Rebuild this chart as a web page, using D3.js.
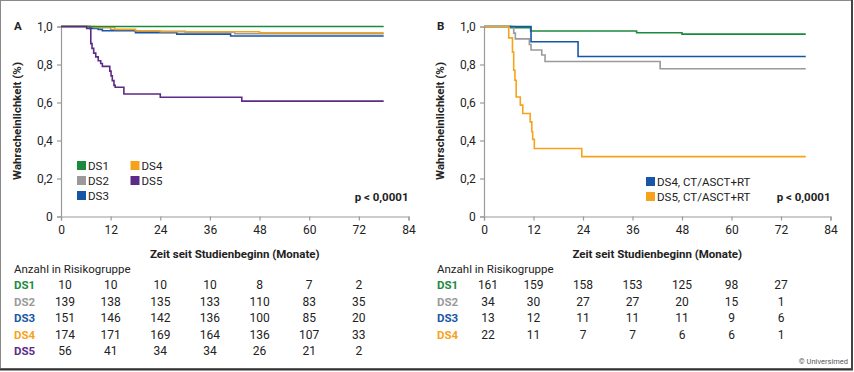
<!DOCTYPE html>
<html>
<head>
<meta charset="utf-8">
<script src="https://cdn.jsdelivr.net/npm/d3@7"></script>
<style>
  body { margin: 0; background: #fff; }
  svg { display: block; font-family: Roboto, "Liberation Sans", sans-serif; }
</style>
</head>
<body>
<svg id="chart" width="854" height="372"></svg>
<script>
// ---- data ----
var months = [0, 12, 24, 36, 48, 60, 72, 84];
var yTicks = [0, 0.2, 0.4, 0.6, 0.8, 1.0];
var riskTimes = [0, 12, 24, 36, 48, 60, 72];

// Panel A curves: [month, survival]
var aDS1 = [[0, 1], [78, 1]];
var aDS2 = [[0, 1], [7, 0.995], [12, 0.982], [18, 0.975], [30, 0.97], [42, 0.962], [78, 0.962]];
var aDS3 = [[0, 1], [7, 0.99], [9, 0.985], [10, 0.978], [18, 0.968], [28, 0.96], [41, 0.95], [78, 0.95]];
var aDS4 = [[0, 1], [8, 0.995], [13, 0.985], [18, 0.978], [24, 0.972], [48, 0.967], [78, 0.967]];
var aDS5 = [[0, 1], [6.2, 0.99], [7.2, 0.91], [7.5, 0.885], [7.9, 0.86], [8.4, 0.84], [9, 0.82], [9.6, 0.805],
            [10, 0.79], [11.8, 0.765], [12.1, 0.74], [12.4, 0.715], [12.8, 0.69], [13.1, 0.68], [15.2, 0.645],
            [24, 0.628], [43.7, 0.607], [78, 0.607]];

// Panel B curves
var bDS1 = [[0, 1], [6.5, 0.994], [11.3, 0.976], [37, 0.967], [48, 0.96], [78, 0.96]];
var bDS2 = [[0, 1], [7.2, 0.965], [7.6, 0.935], [11, 0.905], [11.4, 0.876], [14, 0.85], [14.8, 0.816], [42.7, 0.778], [78, 0.778]];
var bDS4 = [[0, 1], [11.4, 0.92], [22.8, 0.842], [78, 0.842]];
var bDS5 = [[0, 1], [6, 0.94], [6.9, 0.865], [7.2, 0.77], [7.5, 0.717], [7.8, 0.629], [8.8, 0.586], [9.4, 0.542],
            [11.2, 0.498], [11.6, 0.446], [11.8, 0.406], [12.2, 0.358], [23.7, 0.315], [78, 0.315]];

// risk tables
var riskA = [
  ["DS1", [10, 10, 10, 10, 8, 7, 2]],
  ["DS2", [139, 138, 135, 133, 110, 83, 35]],
  ["DS3", [151, 146, 142, 136, 100, 85, 20]],
  ["DS4", [174, 171, 169, 164, 136, 107, 33]],
  ["DS5", [56, 41, 34, 34, 26, 21, 2]]
];
var riskB = [
  ["DS1", [161, 159, 158, 153, 125, 98, 27]],
  ["DS2", [34, 30, 27, 27, 20, 15, 1]],
  ["DS3", [13, 12, 11, 11, 11, 9, 6]],
  ["DS4", [22, 11, 7, 7, 6, 6, 1]]
];

var col = { DS1: "#1b8a3f", DS2: "#9a9a9a", DS3: "#1756a6", DS4: "#f5a31c", DS5: "#5c2a87" };

var svg = d3.select("#chart");

// frame
svg.append("rect").attr("x", 0.5).attr("y", 0.5).attr("width", 851).attr("height", 368)
  .attr("fill", "none").attr("stroke", "#8a8a8a").attr("stroke-width", 1);
svg.append("line").attr("x1", 0).attr("x2", 853).attr("y1", 369.5).attr("y2", 369.5)
  .attr("stroke", "#333").attr("stroke-width", 2);
svg.append("line").attr("x1", 852).attr("x2", 852).attr("y1", 0).attr("y2", 370)
  .attr("stroke", "#444").attr("stroke-width", 2);

function panel(opt) {
  var x = d3.scaleLinear().domain([0, 84]).range([opt.x0, opt.x1]);
  var y = d3.scaleLinear().domain([0, 1]).range([216.5, 26.5]);
  var g = svg.append("g");

  // axes
  var xa = g.append("g").attr("transform", "translate(0,216.5)")
    .call(d3.axisBottom(x).tickValues(months).tickSize(4).tickFormat(d3.format("d")));
  var ya = g.append("g").attr("transform", "translate(" + opt.x0 + ",0)")
    .call(d3.axisLeft(y).tickValues(yTicks).tickSize(4)
      .tickFormat(function (d) { return d === 0 ? "0" : d3.format(".1f")(d).replace(".", ","); }));
  [xa, ya].forEach(function (a) {
    a.selectAll("path, line").attr("stroke", "#9a9a9a").attr("stroke-width", 1.2);
    a.selectAll("text").attr("fill", "#222").attr("font-size", 12).attr("font-family", "Roboto, sans-serif");
  });
  xa.selectAll("text").attr("dy", "0.9em");
  ya.selectAll("text").attr("dx", "-0.1em");

  // panel letter
  g.append("text").attr("x", opt.lx).attr("y", 30).attr("font-size", 11.5).attr("font-weight", "bold")
    .attr("fill", "#222").text(opt.letter);

  // y title
  g.append("text").attr("transform", "translate(" + (opt.x0 - 40) + ",121) rotate(-90)")
    .attr("text-anchor", "middle").attr("font-size", 11.5).attr("font-weight", "bold").attr("fill", "#222")
    .text("Wahrscheinlichkeit (%)");

  // x title
  g.append("text").attr("x", x(42)).attr("y", 258).attr("text-anchor", "middle")
    .attr("font-size", 11.5).attr("font-weight", "bold").attr("fill", "#222")
    .text("Zeit seit Studienbeginn (Monate)");

  // curves
  var line = d3.line().x(function (d) { return x(d[0]); }).y(function (d) { return y(d[1]); })
    .curve(d3.curveStepAfter);
  opt.curves.forEach(function (c) {
    g.append("path").datum(c[1]).attr("d", line).attr("fill", "none")
      .attr("stroke", col[c[0]]).attr("stroke-width", 1.6);
  });

  // legend
  opt.legend.forEach(function (l) {
    g.append("rect").attr("x", l[1]).attr("y", l[2] - 4.5).attr("width", 9).attr("height", 9).attr("fill", col[l[0]]);
    g.append("text").attr("x", l[1] + 11).attr("y", l[2]).attr("dy", "0.36em")
      .attr("font-size", 11.5).attr("fill", "#222").text(l[3]);
  });

  // p value
  g.append("text").attr("x", x(84)).attr("y", 197).attr("dy", "0.36em").attr("text-anchor", "end")
    .attr("font-size", 11.5).attr("font-weight", "bold").attr("fill", "#222").text("p < 0,0001");

  // risk table
  g.append("text").attr("x", opt.lx).attr("y", 269).attr("dy", "0.36em")
    .attr("font-size", 11.5).attr("fill", "#222").text("Anzahl in Risikogruppe");
  opt.risk.forEach(function (r, i) {
    var ry = 285 + i * 16.5;
    g.append("text").attr("x", opt.lx).attr("y", ry).attr("dy", "0.36em").attr("font-size", 11.5)
      .attr("font-weight", "bold").attr("fill", col[r[0]]).text(r[0]);
    r[1].forEach(function (v, j) {
      g.append("text").attr("x", x(riskTimes[j]) + (j === 0 ? 4 : 0)).attr("y", ry).attr("dy", "0.36em")
        .attr("text-anchor", "middle").attr("font-size", 12).attr("fill", "#222").text(v);
    });
  });
}

panel({
  letter: "A", lx: 14, x0: 61, x1: 408.5,
  curves: [["DS2", aDS2], ["DS3", aDS3], ["DS4", aDS4], ["DS1", aDS1], ["DS5", aDS5]],
  legend: [["DS1", 77, 165.5, "DS1"], ["DS2", 77, 180.5, "DS2"], ["DS3", 77, 195.5, "DS3"],
           ["DS4", 130.5, 165.5, "DS4"], ["DS5", 130.5, 180.5, "DS5"]],
  risk: riskA
});

panel({
  letter: "B", lx: 437, x0: 484, x1: 830.5,
  curves: [["DS1", bDS1], ["DS2", bDS2], ["DS3", bDS4], ["DS4", bDS5]],
  legend: [["DS3", 646, 181.5, "DS4, CT/ASCT+RT"], ["DS4", 646, 196.5, "DS5, CT/ASCT+RT"]],
  risk: riskB
});

svg.append("text").attr("x", 848).attr("y", 364).attr("text-anchor", "end")
  .attr("font-size", 7.5).attr("fill", "#555").text("© Universimed");
</script>
</body>
</html>
